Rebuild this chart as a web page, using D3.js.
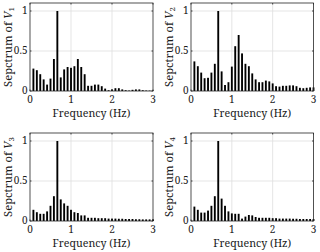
<!DOCTYPE html>
<html><head><meta charset="utf-8">
<script src="https://cdn.jsdelivr.net/npm/d3@7"></script>
<style>body{margin:0;background:#fff}svg{display:block}</style>
</head><body><svg id="c" width="320" height="252"></svg>
<script>
const freqs = [0.083,0.167,0.25,0.333,0.417,0.5,0.583,0.667,0.75,0.833,0.917,1.0,
  1.083,1.167,1.25,1.333,1.417,1.5,1.583,1.667,1.75,1.833,1.917,2.0,
  2.083,2.167,2.25,2.333,2.417,2.5,2.583,2.667,2.75,2.833,2.917,3.0];
const v1 = [0.28,0.26,0.21,0.145,0.08,0.155,0.40,1.0,0.17,0.27,0.30,0.29,
  0.31,0.40,0.30,0.21,0.065,0.065,0.08,0.08,0.06,0.03,0.01,0.02,
  0.035,0.035,0.02,0.01,0.006,0.015,0.02,0.02,0.01,0.006,0.005,0.005];
const v2 = [0.37,0.31,0.23,0.16,0.165,0.23,0.34,1.0,0.245,0.075,0.11,0.305,
  0.56,0.70,0.47,0.34,0.31,0.22,0.145,0.11,0.11,0.13,0.12,0.095,
  0.06,0.055,0.065,0.065,0.07,0.07,0.06,0.04,0.035,0.04,0.045,0.045];
const v3 = [0.14,0.11,0.09,0.09,0.12,0.19,0.31,1.0,0.27,0.22,0.19,0.14,
  0.11,0.10,0.07,0.07,0.04,0.04,0.04,0.035,0.035,0.035,0.03,0.03,
  0.03,0.028,0.028,0.025,0.025,0.025,0.022,0.022,0.02,0.02,0.02,0.02];
const v4 = [0.18,0.14,0.105,0.105,0.13,0.19,0.31,1.0,0.28,0.19,0.12,0.095,
  0.09,0.09,0.03,0.055,0.075,0.07,0.05,0.04,0.04,0.04,0.04,0.035,
  0.035,0.03,0.03,0.03,0.03,0.028,0.028,0.025,0.025,0.025,0.025,0.025];
const xTicks = [0,1,2,3];
const yTicks = [0,0.5,1];
const yTickLabels = ["0","0.5","1"];
const subs = ["1","2","3","4"];

const panels = [
  {vals:v1, l:30, r:153, t:3, b:91},
  {vals:v2, l:191, r:313.5, t:3, b:91},
  {vals:v3, l:30, r:153, t:133, b:221},
  {vals:v4, l:191, r:313.5, t:133, b:221}
];
const svg = d3.select("#c");
const font = "Noto Serif";
const axCol = "#262626";
const txtCol = "#1a1a1a";

function fit(sel, target){
  const w = sel.node().getComputedTextLength();
  const fs = parseFloat(sel.attr("font-size"));
  if (w > 0) sel.attr("font-size", fs*target/w);
}

panels.forEach((p,i)=>{
  const x = d3.scaleLinear().domain([0,3]).range([p.l,p.r]);
  const y = d3.scaleLinear().domain([0,1.1]).range([p.b,p.t]);
  const g = svg.append("g");
  g.selectAll(".gx").data(xTicks.slice(1,-1)).join("line")
    .attr("x1",d=>x(d)).attr("x2",d=>x(d)).attr("y1",p.t).attr("y2",p.b)
    .attr("stroke","#dedede").attr("stroke-width",0.8);
  g.selectAll(".gy").data(yTicks.slice(1)).join("line")
    .attr("x1",p.l).attr("x2",p.r).attr("y1",d=>y(d)).attr("y2",d=>y(d))
    .attr("stroke","#dedede").attr("stroke-width",0.8);
  const bw = (x(1/12)-x(0))*0.55;
  g.selectAll(".bar").data(p.vals).join("rect")
    .attr("x",(d,j)=>x(freqs[j])-bw/2).attr("width",bw)
    .attr("y",d=>y(d)).attr("height",d=>p.b-y(d))
    .attr("fill","#000");
  g.append("rect").attr("x",p.l).attr("y",p.t).attr("width",p.r-p.l).attr("height",p.b-p.t)
    .attr("fill","none").attr("stroke",axCol).attr("stroke-width",0.8);
  const tl = 1.5;
  xTicks.forEach(d=>{
    g.append("line").attr("x1",x(d)).attr("x2",x(d)).attr("y1",p.b).attr("y2",p.b-tl).attr("stroke",axCol).attr("stroke-width",0.8);
    g.append("line").attr("x1",x(d)).attr("x2",x(d)).attr("y1",p.t).attr("y2",p.t+tl).attr("stroke",axCol).attr("stroke-width",0.8);
  });
  yTicks.forEach(d=>{
    g.append("line").attr("x1",p.l).attr("x2",p.l+tl).attr("y1",y(d)).attr("y2",y(d)).attr("stroke",axCol).attr("stroke-width",0.8);
    g.append("line").attr("x1",p.r).attr("x2",p.r-tl).attr("y1",y(d)).attr("y2",y(d)).attr("stroke",axCol).attr("stroke-width",0.8);
  });
  g.selectAll(".xt").data(xTicks).join("text")
    .attr("x",d=>x(d)).attr("y",p.b+11.5).attr("text-anchor","middle")
    .attr("font-family",font).attr("font-size",10).attr("fill",txtCol).text(d=>d);
  g.selectAll(".yt").data(yTicks).join("text")
    .attr("x",p.l-2.5).attr("y",d=>y(d)+3.4).attr("text-anchor","end")
    .attr("font-family",font).attr("font-size",10).attr("fill",txtCol).text((d,j)=>yTickLabels[j]);
  const xl = g.append("text").attr("x",(p.l+p.r)/2).attr("y",p.b+25.5).attr("text-anchor","middle")
    .attr("font-family",font).attr("font-size",11).attr("fill",txtCol).text("Frequency (Hz)");
  fit(xl, 78);
  const yl = g.append("text")
    .attr("transform",`translate(${p.l-18.5},${(p.t+p.b)/2}) rotate(-90)`)
    .attr("text-anchor","middle").attr("font-family",font).attr("font-size",11).attr("fill",txtCol);
  yl.append("tspan").text("Sepctrum of ");
  yl.append("tspan").attr("font-style","italic").text("V");
  yl.append("tspan").attr("font-size","0.7em").attr("dy",2).text(subs[i]);
  fit(yl, 80);
});
</script></body></html>
